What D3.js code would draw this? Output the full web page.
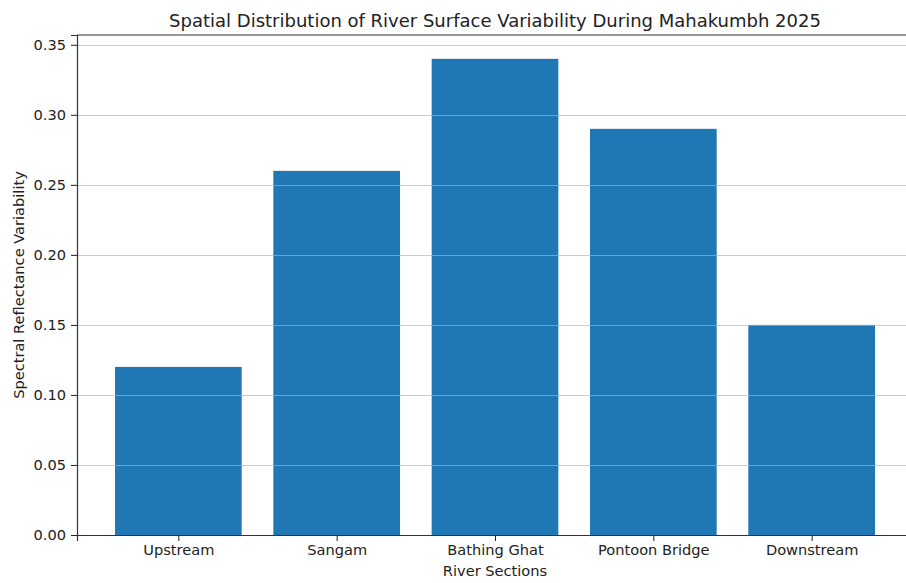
<!DOCTYPE html>
<html>
<head>
<meta charset="utf-8">
<script src="https://cdn.jsdelivr.net/npm/d3@7"></script>
<style>
  body { margin: 0; background: #fff; }
  svg { display: block; font-family: "DejaVu Sans", sans-serif; }
</style>
</head>
<body>
<script>
// dati del grafico
var sections = ["Upstream", "Sangam", "Bathing Ghat", "Pontoon Bridge", "Downstream"];
var variability = [0.12, 0.26, 0.34, 0.29, 0.15];
var yTicks = [0.00, 0.05, 0.10, 0.15, 0.20, 0.25, 0.30, 0.35];

var titleText = "Spatial Distribution of River Surface Variability During Mahakumbh 2025";
var xLabel = "River Sections";
var yLabel = "Spectral Reflectance Variability";

// grandezze
var W = 906, H = 583;
var margin = {top: 35, bottom: 48, left: 77};
var plotRight = 913; // l'asse esce un po' dal bordo destro
var barColor = "#1f77b4";
var fontSize = 14.6;

var svg = d3.select("body").append("svg")
    .attr("width", W)
    .attr("height", H);

// scale stile matplotlib: posizioni 0..n-1, xlim con margine 5%
var n = sections.length;
var pad = 0.05 * (n - 1 + 0.8);
var x = d3.scaleLinear()
    .domain([-0.4 - pad, n - 1 + 0.4 + pad])
    .range([margin.left, plotRight]);
var y = d3.scaleLinear()
    .domain([0, d3.max(variability) * 1.05])
    .range([H - margin.bottom, margin.top]);

var barW = x(0.8) - x(0);

// barre
svg.append("g").selectAll("rect")
    .data(variability)
    .join("rect")
    .attr("x", function(d, i){ return x(i - 0.4); })
    .attr("y", function(d){ return y(d); })
    .attr("width", barW)
    .attr("height", function(d){ return y(0) - y(d); })
    .attr("fill", barColor);

// griglia orizzontale sopra le barre
svg.append("g").selectAll("line")
    .data(yTicks)
    .join("line")
    .attr("x1", margin.left)
    .attr("x2", plotRight)
    .attr("y1", function(d){ return Math.round(y(d)) + 0.5; })
    .attr("y2", function(d){ return Math.round(y(d)) + 0.5; })
    .attr("stroke", "#b0b0b0")
    .attr("stroke-opacity", 0.65)
    .attr("stroke-width", 1);

// assi
var yAxis = d3.axisLeft(y)
    .tickValues(yTicks)
    .tickFormat(d3.format(".2f"))
    .tickSizeOuter(0)
    .tickSize(6)
    .tickPadding(5);
var xAxis = d3.axisBottom(x)
    .tickValues(d3.range(n))
    .tickFormat(function(i){ return sections[i]; })
    .tickSizeOuter(0)
    .tickSize(6)
    .tickPadding(4);

var gy = svg.append("g")
    .attr("transform", "translate(" + margin.left + ",0)")
    .call(yAxis);
var gx = svg.append("g")
    .attr("transform", "translate(0," + (H - margin.bottom) + ")")
    .call(xAxis);

[gx, gy].forEach(function(g){
    g.selectAll("text").attr("font-size", fontSize).attr("fill", "#222").attr("font-family", "DejaVu Sans");
    g.selectAll("line").attr("stroke", "#222");
    g.select(".domain").attr("stroke", "#333").attr("stroke-width", 1.2);
});

// bordo superiore (spine)
svg.append("line")
    .attr("x1", margin.left).attr("x2", plotRight)
    .attr("y1", margin.top).attr("y2", margin.top)
    .attr("stroke", "#333").attr("stroke-width", 1.2);

// titolo ed etichette
svg.append("text")
    .attr("x", (margin.left + plotRight) / 2)
    .attr("y", 27)
    .attr("text-anchor", "middle")
    .attr("font-size", 18)
    .attr("fill", "#222")
    .text(titleText);

svg.append("text")
    .attr("x", (margin.left + plotRight) / 2)
    .attr("y", 576)
    .attr("text-anchor", "middle")
    .attr("font-size", fontSize)
    .attr("fill", "#222")
    .text(xLabel);

svg.append("text")
    .attr("transform", "translate(24," + ((margin.top + H - margin.bottom) / 2) + ") rotate(-90)")
    .attr("text-anchor", "middle")
    .attr("font-size", fontSize)
    .attr("fill", "#222")
    .text(yLabel);
</script>
</body>
</html>
